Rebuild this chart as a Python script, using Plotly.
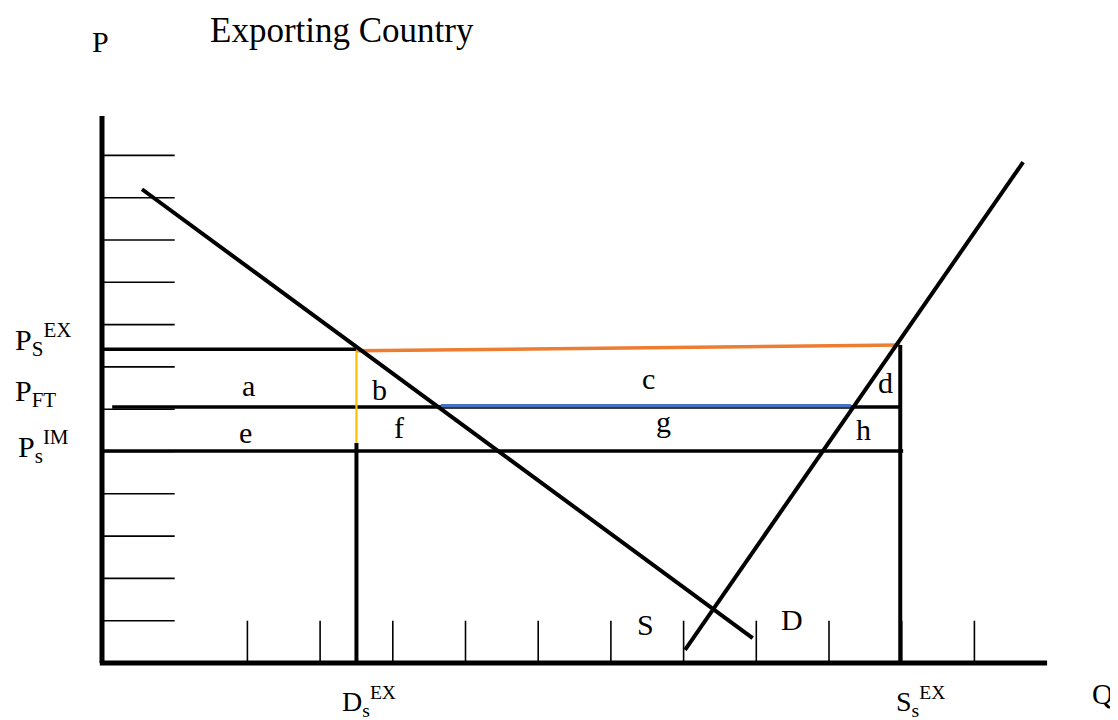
import plotly.graph_objects as go

# ---- data (economic units: Q along horizontal, P along vertical) ----
q_ticks = [2, 3, 4, 5, 6, 7, 8, 9, 10, 11, 12]
p_ticks = [1, 2, 3, 4, 5, 6, 7, 8, 9, 10, 11, 12]
tick_len = 1.0
q_axis_end = 13.0
p_axis_end = 12.93

demand_q = [0.55, 8.95]
demand_p = [11.2, 0.59]
supply_q = [8.02, 12.67]
supply_p = [0.31, 11.84]

p_s_ex = 7.42
p_ft = 6.05
p_s_im = 5.01
q_d_ex = 3.5
q_s_ex = 10.98

orange_q = [3.5, 10.98]
orange_p = [7.38, 7.52]
blue_q = [4.66, 10.30]
blue_p = [6.08, 6.08]
yellow_p = [5.2, 7.38]

area_labels = ["a", "b", "c", "d", "e", "f", "g", "h", "S", "D"]
area_q = [2.01, 3.82, 7.52, 10.78, 1.97, 4.09, 7.72, 10.48, 7.47, 9.49]
area_p = [6.57, 6.47, 6.72, 6.62, 5.46, 5.56, 5.72, 5.51, 0.90, 1.02]

price_labels = ["P<sub>S</sub><sup>EX</sup>", "P<sub>FT</sub>", "P<sub>s</sub><sup>IM</sup>"]
price_label_q = [-1.22, -1.22, -1.18]
price_label_p = [7.64, 6.38, 5.13]

qty_labels = ["D<sub>s</sub><sup>EX</sup>", "S<sub>s</sub><sup>EX</sup>"]
qty_label_q = [3.28, 10.90]
qty_label_p = [-0.90, -0.92]

title_text = "Exporting Country"

# screen mapping (page body has an 8px margin)
page_off = 8
fig_w, fig_h = 1118 - page_off, 720 - page_off
q_px, p_px = 72.7, 42.3
x0_px, y0_px = 102, 663

fig = go.Figure()

def seg(x, y, width, color="black"):
    fig.add_trace(go.Scatter(x=x, y=y, mode="lines",
                             line=dict(color=color, width=width),
                             hoverinfo="skip", showlegend=False))

# tick marks
for p in p_ticks:
    seg([0, tick_len], [p, p], 1.6)
for q in q_ticks:
    seg([q, q], [0, tick_len], 1.6)

# price lines
seg([0, q_d_ex], [p_s_ex, p_s_ex], 3.5)
seg([0.14, q_s_ex], [p_ft, p_ft], 3.5)
seg([0, q_s_ex + 0.04], [p_s_im, p_s_im], 3.5)

# coloured lines
seg(orange_q, orange_p, 3.5, "#ED7D31")
seg(blue_q, blue_p, 3.5, "#4472C4")
seg([q_d_ex, q_d_ex], yellow_p, 2.2, "#FFC000")

# quantity verticals
seg([q_d_ex, q_d_ex], [0, yellow_p[0]], 4)
seg([q_s_ex, q_s_ex], [0, orange_p[1]], 4)

# demand and supply
seg(demand_q, demand_p, 4)
seg(supply_q, supply_p, 4)

# axes
seg([0, 0], [0, p_axis_end], 5)
seg([-0.03, q_axis_end], [0, 0], 5)

serif = "Liberation Serif"
ann = []
for t, x, y in zip(area_labels, area_q, area_p):
    ann.append(dict(x=x, y=y, text=t, showarrow=False,
                    font=dict(family=serif, size=30, color="black")))
for t, x, y in zip(price_labels, price_label_q, price_label_p):
    ann.append(dict(x=x, y=y, text=t, showarrow=False, xanchor="left",
                    font=dict(family=serif, size=30, color="black")))
for t, x, y in zip(qty_labels, qty_label_q, qty_label_p):
    ann.append(dict(x=x, y=y, text=t, showarrow=False, xanchor="left",
                    font=dict(family=serif, size=28, color="black")))
ann.append(dict(x=13.76, y=-0.73, text="Q", showarrow=False,
                font=dict(family=serif, size=29, color="black")))
ann.append(dict(x=-0.014, y=14.70, text="P", showarrow=False,
                font=dict(family=serif, size=30, color="black")))
ann.append(dict(x=3.30, y=14.96, text=title_text, showarrow=False,
                font=dict(family=serif, size=35, color="black")))

fig.update_layout(
    width=fig_w, height=fig_h,
    margin=dict(l=0, r=0, t=0, b=0),
    paper_bgcolor="white", plot_bgcolor="white",
    xaxis=dict(range=[(page_off - x0_px) / q_px, (fig_w + page_off - x0_px) / q_px],
               visible=False, fixedrange=True),
    yaxis=dict(range=[(y0_px - fig_h - page_off) / p_px, (y0_px - page_off) / p_px],
               visible=False, fixedrange=True),
    annotations=ann,
    showlegend=False,
)

fig.write_html("out.html", config={"displayModeBar": False})
